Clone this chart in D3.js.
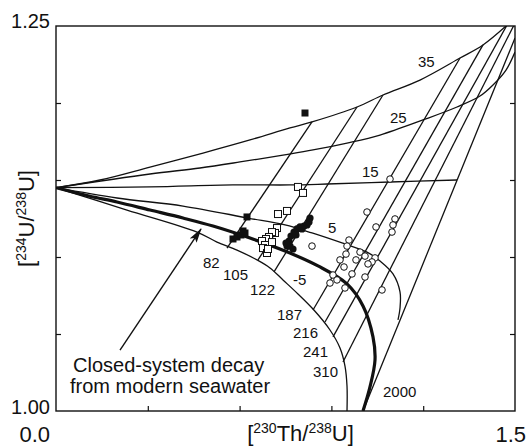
<!DOCTYPE html>
<html>
<head>
<meta charset="utf-8">
<script src="https://cdn.jsdelivr.net/npm/d3@7"></script>
<style>
body { margin: 0; background: #fff; }
svg { display: block; font-family: Arial, "Liberation Sans", Helvetica, sans-serif; fill: #111; }
.frame { fill: none; stroke: #111; stroke-width: 1.4; }
.curve { fill: none; stroke: #111; stroke-width: 1.3; }
.curve.closed { stroke-width: 3.2; }
.iso { fill: none; stroke: #111; stroke-width: 1.3; }
.tick line { stroke: #111; stroke-width: 1.2; }
.domain { display: none; }
.lbl { font-size: 15px; }
</style>
</head>
<body>
<svg width="531" height="448"></svg>
<script>
var svg = d3.select('svg');
var svgWidth = +svg.attr('width');
var svgHeight = +svg.attr('height');
var padding = {t: 26, r: 16, b: 37, l: 56};

// open-system trajectories from modern seawater, [230Th/238U, 234U/238U]
var curveMinus5 = [[0,1.145],[0.232,1.1305],[0.4608,1.1162],[0.5261,1.1097],[0.5915,1.1045],[0.6569,1.0981],
    [0.6993,1.0929],[0.7418,1.0851],[0.7908,1.076],[0.8399,1.0662],[0.8954,1.0526],[0.9281,1.0409],
    [0.9444,1.0292],[0.951,1.0162],[0.951,1.0]];
var curveClosed = [[0,1.145],[0.1078,1.1396],[0.1993,1.1357],[0.3072,1.1305],[0.415,1.1253],[0.5131,1.1201],
    [0.634,1.1123],[0.7484,1.1039],[0.8562,1.0942],[0.951,1.0825],[1.0033,1.0682],[1.0359,1.0481],
    [1.0425,1.0331],[1.0261,1.0156],[1.0033,1.0]];
var curve5 = [[0,1.145],[0.1993,1.1383],[0.415,1.1331],[0.6275,1.1253],[0.7484,1.1208],[0.8366,1.1156],
    [0.9346,1.1091],[1.0163,1.1032],[1.0588,1.0974],[1.1013,1.089],[1.1242,1.0773],[1.1242,1.0669],[1.1176,1.0591]];
var curve15 = [[0,1.145],[0.3072,1.1455],[0.5784,1.1468],[0.7647,1.1468],[0.8856,1.1474],[1.0915,1.1487],[1.3105,1.15]];
var curve25 = [[0,1.145],[0.3072,1.1539],[0.4706,1.1578],[0.6013,1.1617],[0.7418,1.1662],[0.8399,1.1695],
    [0.951,1.174],[1.0588,1.1792],[1.1993,1.189],[1.3105,1.1974],[1.3856,1.2045],[1.4281,1.2117],[1.4706,1.2214],[1.5,1.2331]];
var curve35 = [[0,1.145],[0.1438,1.15],[0.3072,1.1584],[0.4804,1.1675],[0.634,1.176],[0.7647,1.1838],
    [0.8366,1.1877],[0.9837,1.1974],[1.0686,1.2052],[1.1895,1.2149],[1.3203,1.2292],[1.3954,1.2377],[1.4739,1.2506]];
var curveNames = ['-5', '0', '5', '15', '25', '35'];

// isochrons (ka): lower and upper ends
var isoAges = ['82', '105', '122', '187', '216', '241', '310', '2000'];
var isoLower = [[0.5588,1.1058],[0.6601,1.0981],[0.7124,1.0903],[0.8399,1.0656],[0.8791,1.0578],[0.9052,1.0481],[0.9379,1.0318],[1.0033,1.0]];
var isoUpper = [[0.8366,1.1877],[0.9837,1.1974],[1.0686,1.2052],[1.3203,1.2292],[1.3954,1.2377],[1.4739,1.2506],[1.5,1.2519],[1.5,1.2422]];

// samples
var filledSquares = [[0.8137,1.1935],[0.6242,1.126],[0.5784,1.1117],[0.5915,1.113],[0.6046,1.1143],[0.6176,1.1156],[0.6111,1.1169]];
var openSquares = [[0.7908,1.1455],[0.8072,1.1416],[0.7549,1.1299],[0.7255,1.1279],[0.7222,1.1188],[0.7157,1.1156],
    [0.7059,1.1162],[0.6961,1.113],[0.6863,1.1117],[0.6732,1.1104],[0.683,1.1078],[0.6765,1.1058],[0.6895,1.1026],
    [0.7059,1.1097],[0.6928,1.1052]];
var filledCircles = [[0.7549,1.1071],[0.7614,1.1104],[0.768,1.1136],[0.7778,1.1162],[0.7876,1.1182],[0.7974,1.1195],
    [0.8105,1.1201],[0.8203,1.1208],[0.8268,1.1227],[0.7843,1.1143],[0.7647,1.1071],[0.7745,1.1052],[0.8301,1.1253],
    [0.8039,1.1182],[0.7516,1.1091]];
var openCircles = [[1.0915,1.1506],[1.0163,1.1292],[1.0458,1.1195],[1.1078,1.1247],[1.1013,1.1208],[1.098,1.1162],
    [0.9575,1.111],[0.951,1.1071],[0.9935,1.1032],[1.0098,1.1006],[0.9477,1.1019],[0.9804,1.0981],[0.9281,1.0981],
    [1.0425,1.0994],[1.0327,1.0968],[1.0196,1.0955],[0.9412,1.0935],[0.9673,1.089],[0.9052,1.0883],[0.9183,1.0851],
    [0.8954,1.0831],[0.9444,1.0799],[1.0098,1.087],[1.0654,1.0786],[0.8366,1.1071]];

// label anchors (left, baseline) in data units
var curveLabels = ['35', '25', '15', '5', '-5'];
var curveLabelPos = [[1.183,1.2234],[1.0915,1.187],[1.0,1.1519],[0.8889,1.1156],[0.7745,1.0818]];
var isoLabelPos = [[0.4804,1.0929],[0.5458,1.0851],[0.634,1.0753],[0.7222,1.0591],[0.7745,1.0474],[0.8072,1.0351],[0.8399,1.0221],[1.0686,1.0091]];

var xScale = d3.scaleLinear().domain([0, 1.5]).range([padding.l, svgWidth - padding.r]);
var yScale = d3.scaleLinear().domain([1.0, 1.25]).range([svgHeight - padding.b, padding.t]);

var defs = svg.append('defs');
defs.append('clipPath').attr('id', 'plotclip')
    .append('rect')
    .attr('x', xScale(0)).attr('y', yScale(1.25))
    .attr('width', xScale(1.5) - xScale(0))
    .attr('height', yScale(1.0) - yScale(1.25));
defs.append('marker')
    .attr('id', 'arrowhead')
    .attr('markerUnits', 'userSpaceOnUse')
    .attr('viewBox', '0 0 15 9')
    .attr('refX', 14).attr('refY', 4.5)
    .attr('markerWidth', 15).attr('markerHeight', 9)
    .attr('orient', 'auto')
    .append('path')
    .attr('d', 'M0,0.5 L15,4.5 L0,8.5 L3,4.5 Z')
    .attr('fill', '#111');

var line = d3.line()
    .x(function(d) { return xScale(d[0]); })
    .y(function(d) { return yScale(d[1]); })
    .curve(d3.curveCatmullRom.alpha(0.5));

var plotG = svg.append('g').attr('clip-path', 'url(#plotclip)');

var curves = [curveMinus5, curveClosed, curve5, curve15, curve25, curve35];
plotG.selectAll('.curve')
    .data(curves)
    .enter()
    .append('path')
    .attr('class', function(d, i) { return curveNames[i] == '0' ? 'curve closed' : 'curve'; })
    .attr('d', line);

plotG.selectAll('.iso')
    .data(isoAges)
    .enter()
    .append('line')
    .attr('class', 'iso')
    .attr('x1', function(d, i) { return xScale(isoLower[i][0]); })
    .attr('y1', function(d, i) { return yScale(isoLower[i][1]); })
    .attr('x2', function(d, i) { return xScale(isoUpper[i][0]); })
    .attr('y2', function(d, i) { return yScale(isoUpper[i][1]); });

// axes: inward ticks on left, right and bottom
var yTicks = [1.05, 1.10, 1.15, 1.20];
var xTicks = [0.3, 0.6, 0.9, 1.2];
svg.append('g')
    .attr('transform', 'translate(' + [xScale(0), 0] + ')')
    .call(d3.axisLeft(yScale).tickValues(yTicks).tickSize(-5).tickFormat(''));
svg.append('g')
    .attr('transform', 'translate(' + [xScale(1.5), 0] + ')')
    .call(d3.axisRight(yScale).tickValues(yTicks).tickSize(-5).tickFormat(''));
svg.append('g')
    .attr('transform', 'translate(' + [0, yScale(1.0)] + ')')
    .call(d3.axisBottom(xScale).tickValues(xTicks).tickSize(-5).tickFormat(''));

svg.append('rect')
    .attr('class', 'frame')
    .attr('x', xScale(0)).attr('y', yScale(1.25))
    .attr('width', xScale(1.5) - xScale(0))
    .attr('height', yScale(1.0) - yScale(1.25));

// end labels
svg.append('text').text('1.25')
    .attr('x', xScale(0) - 6).attr('y', yScale(1.25) + 2)
    .attr('text-anchor', 'end').style('font-size', '20px');
svg.append('text').text('1.00')
    .attr('x', xScale(0) - 6).attr('y', yScale(1.0) + 3)
    .attr('text-anchor', 'end').style('font-size', '20px');
svg.append('text').text('0.0')
    .attr('x', xScale(0) - 6).attr('y', 442)
    .attr('text-anchor', 'end').style('font-size', '22px');
svg.append('text').text('1.5')
    .attr('x', xScale(1.5) + 11).attr('y', 442)
    .attr('text-anchor', 'end').style('font-size', '22px');

// axis titles with superscripts
var xTitle = svg.append('text')
    .attr('x', (xScale(0) + xScale(1.5)) / 2 + 15).attr('y', 441)
    .attr('text-anchor', 'middle').style('font-size', '22px');
xTitle.append('tspan').text('[');
xTitle.append('tspan').text('230').style('font-size', '14px').attr('dy', -8);
xTitle.append('tspan').text('Th/').attr('dy', 8);
xTitle.append('tspan').text('238').style('font-size', '14px').attr('dy', -8);
xTitle.append('tspan').text('U]').attr('dy', 8);

var yTitle = svg.append('text')
    .attr('transform', 'translate(' + [34, (yScale(1.0) + yScale(1.25)) / 2] + ')rotate(-90)')
    .attr('text-anchor', 'middle').style('font-size', '22px');
yTitle.append('tspan').text('[');
yTitle.append('tspan').text('234').style('font-size', '14px').attr('dy', -8);
yTitle.append('tspan').text('U/').attr('dy', 8);
yTitle.append('tspan').text('238').style('font-size', '14px').attr('dy', -8);
yTitle.append('tspan').text('U]').attr('dy', 8);

// curve and isochron labels
svg.selectAll('.clbl')
    .data(curveLabels)
    .enter()
    .append('text')
    .attr('class', 'lbl clbl')
    .attr('x', function(d, i) { return xScale(curveLabelPos[i][0]); })
    .attr('y', function(d, i) { return yScale(curveLabelPos[i][1]); })
    .text(function(d) { return d; });
svg.selectAll('.ilbl')
    .data(isoAges)
    .enter()
    .append('text')
    .attr('class', 'lbl ilbl')
    .attr('x', function(d, i) { return xScale(isoLabelPos[i][0]); })
    .attr('y', function(d, i) { return yScale(isoLabelPos[i][1]); })
    .text(function(d) { return d; });

// annotation
var note = svg.append('text').style('font-size', '20px');
note.append('tspan').attr('x', xScale(0.0556)).attr('y', yScale(1.0253)).text('Closed-system decay');
note.append('tspan').attr('x', xScale(0.0458)).attr('y', yScale(1.0117)).text('from modern seawater');
svg.append('line')
    .attr('x1', xScale(0.2092)).attr('y1', yScale(1.0396))
    .attr('x2', xScale(0.4739)).attr('y2', yScale(1.1182))
    .attr('stroke', '#111').attr('stroke-width', 1.4)
    .attr('marker-end', 'url(#arrowhead)');

// samples
var markerG = svg.append('g');
markerG.selectAll('.osq')
    .data(openSquares)
    .enter()
    .append('rect')
    .attr('x', function(d) { return xScale(d[0]) - 3.5; })
    .attr('y', function(d) { return yScale(d[1]) - 3.5; })
    .attr('width', 7).attr('height', 7)
    .attr('fill', '#fff').attr('stroke', '#111').attr('stroke-width', 1);
markerG.selectAll('.fsq')
    .data(filledSquares)
    .enter()
    .append('rect')
    .attr('x', function(d) { return xScale(d[0]) - 3.5; })
    .attr('y', function(d) { return yScale(d[1]) - 3.5; })
    .attr('width', 7).attr('height', 7)
    .attr('fill', '#111');
markerG.selectAll('.fci')
    .data(filledCircles)
    .enter()
    .append('circle')
    .attr('cx', function(d) { return xScale(d[0]); })
    .attr('cy', function(d) { return yScale(d[1]); })
    .attr('r', 3.6)
    .attr('fill', '#111');
markerG.selectAll('.oci')
    .data(openCircles)
    .enter()
    .append('circle')
    .attr('cx', function(d) { return xScale(d[0]); })
    .attr('cy', function(d) { return yScale(d[1]); })
    .attr('r', 3.3)
    .attr('fill', '#fff').attr('stroke', '#111').attr('stroke-width', 1);
</script>
</body>
</html>
